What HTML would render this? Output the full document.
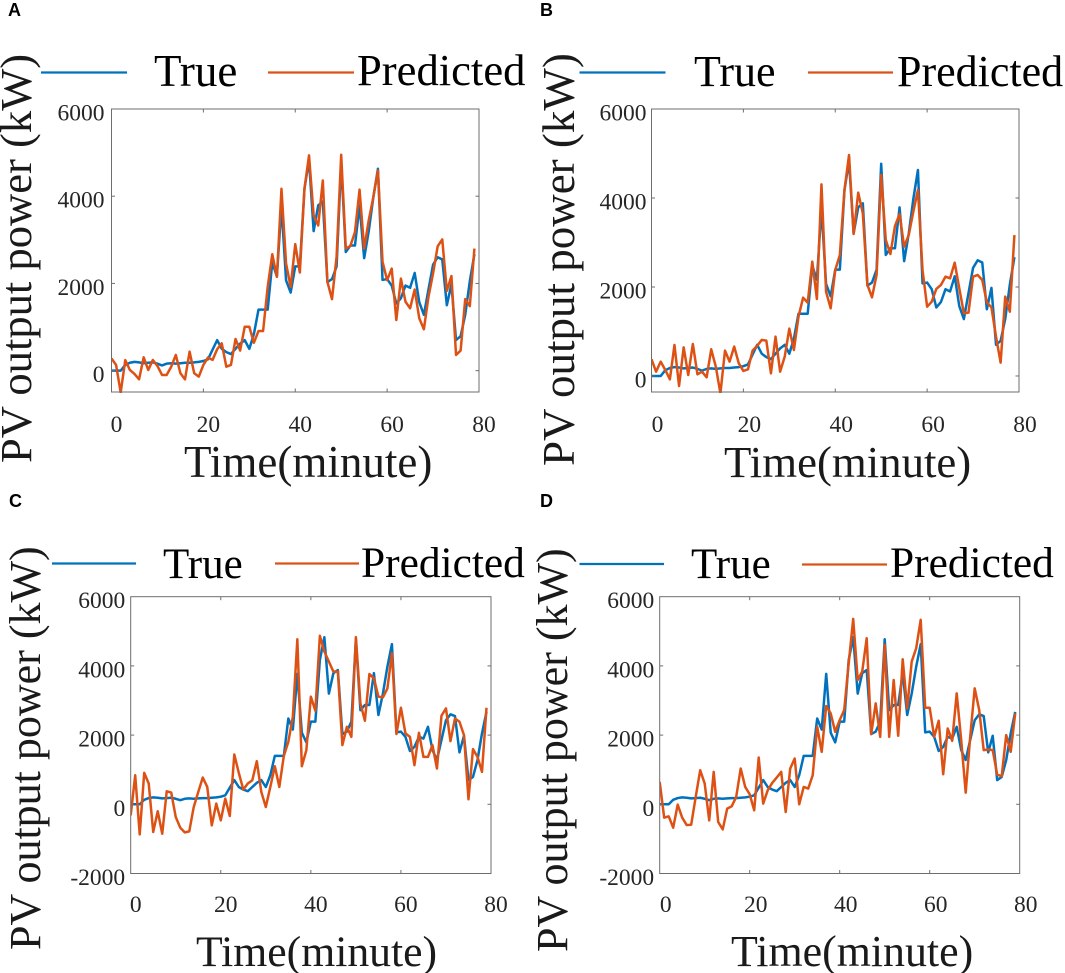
<!DOCTYPE html>
<html lang="en">
<head>
<meta charset="utf-8">
<title>PV output power: true vs predicted</title>
<style>
html,body{margin:0;padding:0;background:#fff;width:1065px;height:973px;overflow:hidden}
svg{display:block}
text{font-family:"Liberation Serif",serif;fill:#1a1a1a}
.tag{font-family:"Liberation Sans",sans-serif;font-weight:bold;font-size:18px;fill:#000}
.leg{fill:#000}
.tick{font-size:23.5px;fill:#262626}
</style>
</head>
<body>
<svg id="figure" xmlns="http://www.w3.org/2000/svg" width="1065" height="973" viewBox="0 0 1065 973">
  <rect width="1065" height="973" fill="#fff"/>

  <g id="panel-a">
    <text class="tag" x="8" y="16">A</text>
    <line x1="41" x2="127" y1="72.5" y2="72.5" stroke="#0072BD" stroke-width="2.2"/>
    <text class="leg" x="154" y="86" font-size="45">True</text>
    <line x1="268" x2="354" y1="72.5" y2="72.5" stroke="#D95319" stroke-width="2.2"/>
    <text class="leg" x="357" y="85" font-size="44.6">Predicted</text>
    <text x="184" y="477" font-size="45">Time(minute)</text>
    <text transform="translate(31 463) rotate(-90)" font-size="44.6">PV output power (kW)</text>
  </g>

  <g id="panel-b">
    <text class="tag" x="540" y="16">B</text>
    <line x1="579.5" x2="665.5" y1="72.5" y2="72.5" stroke="#0072BD" stroke-width="2.2"/>
    <text class="leg" x="694" y="86" font-size="44">True</text>
    <line x1="808" x2="893" y1="72.5" y2="72.5" stroke="#D95319" stroke-width="2.2"/>
    <text class="leg" x="897" y="86" font-size="44">Predicted</text>
    <text x="724" y="477" font-size="44.8">Time(minute)</text>
    <text transform="translate(574 466) rotate(-90)" font-size="45">PV output power (kW)</text>
  </g>

  <g id="panel-c">
    <text class="tag" x="9" y="507">C</text>
    <line x1="52" x2="136" y1="563.5" y2="563.5" stroke="#0072BD" stroke-width="2.2"/>
    <text class="leg" x="163" y="578" font-size="43">True</text>
    <line x1="275" x2="359" y1="563.5" y2="563.5" stroke="#D95319" stroke-width="2.2"/>
    <text class="leg" x="361" y="577" font-size="43.4">Predicted</text>
    <text x="196" y="966" font-size="43.7">Time(minute)</text>
    <text transform="translate(40 950) rotate(-90)" font-size="44">PV output power (kW)</text>
  </g>

  <g id="panel-d">
    <text class="tag" x="540" y="507">D</text>
    <line x1="579.5" x2="664" y1="564" y2="564" stroke="#0072BD" stroke-width="2.2"/>
    <text class="leg" x="691" y="578" font-size="43">True</text>
    <line x1="802" x2="887" y1="564.5" y2="564.5" stroke="#D95319" stroke-width="2.2"/>
    <text class="leg" x="890" y="577" font-size="43.4">Predicted</text>
    <text x="731" y="966" font-size="43.9">Time(minute)</text>
    <text transform="translate(567 952) rotate(-90)" font-size="44">PV output power (kW)</text>
  </g>
</svg>

<script>
const xTicks = [0, 20, 40, 60, 80];
const yTicksAB = [0, 2000, 4000, 6000];
const yTicksCD = [-2000, 0, 2000, 4000, 6000];

const trueValues = [0,0,0,130,180,200,190,170,180,190,160,120,160,170,160,170,180,180,190,200,220,260,480,700,500,425,380,500,620,700,500,840,1400,1400,1400,2480,2160,3770,2070,1790,2390,2390,4170,4830,3200,3790,3880,2030,2100,2390,4770,2720,2870,2870,3790,2580,3200,3980,4630,2080,2100,1950,1540,1660,1950,1900,2240,1570,1280,1860,2430,2600,2550,1500,1980,700,790,1280,2050,2670];

const predictedA = [280,130,-500,240,15,-76,-200,305,15,245,107,-100,-100,90,360,-60,-200,435,-60,-137,130,300,245,490,625,90,130,725,460,1007,1007,640,908,908,1920,2670,2150,4170,2457,1920,2900,2250,4170,4937,3560,3330,4360,2037,1640,2610,4950,2800,2860,3180,4150,2800,3450,3980,4590,2500,2075,2340,1160,2110,1580,1430,1860,1200,950,1690,2230,2850,3010,1830,2170,360,460,1640,1480,2800];

const predictedB = [375,97,322,135,-75,697,-225,644,22,719,37,97,-30,600,210,-390,570,322,660,285,112,150,570,680,810,794,60,884,97,434,1064,584,1333,1760,1648,2570,1730,4307,1895,1520,2382,2720,4180,4966,3190,4120,3655,2045,1768,2270,4517,3056,2741,3370,3640,2906,3168,3693,4180,2382,1558,1670,1955,2045,2232,2195,2547,1970,1408,1423,2232,2270,2157,1655,1543,884,300,1783,1445,3168];

const predictedC = [-320,840,-870,908,600,-800,-200,-850,377,338,-367,-676,-811,-782,-77,357,773,502,-608,19,-464,164,-338,1440,908,425,600,695,1246,357,-77,502,1100,502,1400,1806,2530,4770,1100,1565,3110,2705,4870,4415,4125,3835,3835,1710,2240,1950,4830,2917,2415,3767,3640,3110,3090,3350,4366,2030,2790,2050,1950,1130,2067,1370,1370,1710,1033,2560,2772,1825,2480,2386,2000,145,1594,1370,937,2790];

const predictedD = [647,-386,-348,-676,-10,-386,-600,-590,212,985,600,-464,937,-512,-725,-125,-58,212,1033,502,290,-174,1352,19,405,618,773,937,-222,1033,1323,0,502,454,840,2240,1516,2840,2627,2096,2434,2724,4076,5360,3593,3835,4800,2028,2917,1950,4607,1950,3593,1980,4192,2772,4125,4511,5332,2790,2790,1950,2415,869,2192,1835,3207,1854,338,1950,3352,2724,1565,1584,1565,860,811,2000,1516,2627];

const SVG_NS = 'http://www.w3.org/2000/svg';

function make(tag, parent, attrs) {
  const el = document.createElementNS(SVG_NS, tag);
  for (const k in attrs) el.setAttribute(k, attrs[k]);
  parent.appendChild(el);
  return el;
}

function pathFor(values, sx, sy) {
  return values.map((v, i) => (i ? 'L' : 'M') + sx(i).toFixed(2) + ' ' + sy(v).toFixed(2)).join('');
}

function drawPanel(id, box, yDomain, yTicks, predicted, xLabelShift) {
  const g = document.getElementById('panel-' + id);
  const sx = t => box.left + (t / 80) * (box.right - box.left);
  const sy = v => box.bottom - ((v - yDomain[0]) / (yDomain[1] - yDomain[0])) * (box.bottom - box.top);

  const clip = make('clipPath', g, { id: 'clip-' + id });
  
  
  make('rect', clip, { x: box.left, y: box.top, width: box.right - box.left, height: box.bottom - box.top + 1 });

  const trueLine = make('path', g, { d: pathFor(trueValues, sx, sy), fill: 'none', stroke: '#0072BD', 'stroke-width': 2.5, 'stroke-linejoin': 'round', 'clip-path': 'url(#clip-' + id + ')' });
  
  

  const predLine = make('path', g, { d: pathFor(predicted, sx, sy), fill: 'none', stroke: '#DD5214', 'stroke-width': 2.5, 'stroke-linejoin': 'round', 'clip-path': 'url(#clip-' + id + ')' });
  
  

  const frame = make('rect', g, { x: box.left, y: box.top, width: box.right - box.left, height: box.bottom - box.top, fill: 'none', stroke: '#6e6e6e', 'stroke-width': 1 });
  
  

  xTicks.forEach(t => {
    const x = sx(t);
    if (t > 0 && t < 80) {
      const tickB = make('line', g, { x1: x, x2: x, y1: box.bottom, y2: box.bottom - 3.5, stroke: '#6e6e6e', 'stroke-width': 1 });
      
      
      const tickT = make('line', g, { x1: x, x2: x, y1: box.top, y2: box.top + 3.5, stroke: '#6e6e6e', 'stroke-width': 1 });
      
      
    }
    const label = make('text', g, { class: 'tick', x: x + xLabelShift, y: box.tickBase, 'text-anchor': 'middle' });
    
    
    label.textContent = t;
  });

  yTicks.forEach(v => {
    const y = sy(v);
    if (v > yDomain[0] && v < yDomain[1]) {
      const tickL = make('line', g, { x1: box.left, x2: box.left + 3.5, y1: y, y2: y, stroke: '#6e6e6e', 'stroke-width': 1 });
      
      
      const tickR = make('line', g, { x1: box.right, x2: box.right - 3.5, y1: y, y2: y, stroke: '#6e6e6e', 'stroke-width': 1 });
      
      
    }
    const label = make('text', g, { class: 'tick', x: box.left - box.yLabelGap, y: y + 11.5, 'text-anchor': 'end' });
    
    
    label.textContent = v;
  });
}

drawPanel('a', { left: 111.5, right: 479, top: 109, bottom: 392, tickBase: 432, yLabelGap: 7 }, [-490, 6000], yTicksAB, predictedA, 5);
drawPanel('b', { left: 651.5, right: 1019, top: 109, bottom: 392, tickBase: 432, yLabelGap: 5 }, [-360, 6000], yTicksAB, predictedB, 6);
drawPanel('c', { left: 130.7, right: 491, top: 596.7, bottom: 873.5, tickBase: 912, yLabelGap: 5.5 }, [-2000, 6000], yTicksCD, predictedC, 5);
drawPanel('d', { left: 659.7, right: 1019.7, top: 596.7, bottom: 873.5, tickBase: 912, yLabelGap: 5.5 }, [-2000, 6000], yTicksCD, predictedD, 6);
</script>
</body>
</html>
